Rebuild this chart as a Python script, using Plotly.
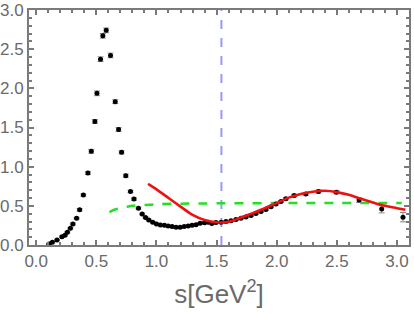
import plotly.graph_objects as go

# experimental data points
data_s = [0.106, 0.134, 0.173, 0.214, 0.239, 0.259, 0.284, 0.305, 0.336, 0.361,
          0.392, 0.430, 0.458, 0.488, 0.505, 0.535, 0.554, 0.582, 0.618, 0.657,
          0.685, 0.710, 0.745, 0.784, 0.813, 0.850, 0.881, 0.909, 0.936, 0.969,
          1.000, 1.033, 1.066, 1.097, 1.130, 1.163, 1.197, 1.230, 1.263, 1.296,
          1.329, 1.363, 1.400, 1.430, 1.460, 1.495, 1.537, 1.578, 1.620, 1.661,
          1.703, 1.744, 1.786, 1.827, 1.869, 1.910, 1.952, 1.993, 2.035, 2.076,
          2.145, 2.242, 2.347, 2.496, 2.685, 2.873, 3.050]
data_y = [0.013, 0.035, 0.064, 0.106, 0.124, 0.163, 0.214, 0.269, 0.342, 0.449,
          0.637, 0.919, 1.196, 1.577, 1.936, 2.372, 2.670, 2.740, 2.420, 1.830,
          1.474, 1.183, 0.885, 0.683, 0.586, 0.470, 0.397, 0.350, 0.320, 0.291,
          0.269, 0.256, 0.253, 0.244, 0.235, 0.227, 0.227, 0.235, 0.244, 0.253,
          0.260, 0.278, 0.285, 0.290, 0.275, 0.286, 0.291, 0.299, 0.308, 0.324,
          0.342, 0.359, 0.376, 0.401, 0.427, 0.453, 0.487, 0.522, 0.555, 0.590,
          0.632, 0.650, 0.683, 0.675, 0.573, 0.460, 0.355]
data_err = [0.008, 0.008, 0.008, 0.010, 0.010, 0.010, 0.010, 0.012, 0.012, 0.015,
            0.015, 0.020, 0.025, 0.025, 0.030, 0.030, 0.030, 0.030, 0.030, 0.025,
            0.025, 0.020, 0.020, 0.015, 0.015, 0.012, 0.010, 0.010, 0.010, 0.010,
            0.010, 0.010, 0.010, 0.010, 0.010, 0.010, 0.010, 0.010, 0.010, 0.010,
            0.010, 0.010, 0.010, 0.010, 0.010, 0.010, 0.010, 0.010, 0.010, 0.010,
            0.010, 0.010, 0.010, 0.010, 0.010, 0.010, 0.010, 0.012, 0.012, 0.012,
            0.015, 0.015, 0.020, 0.020, 0.030, 0.050, 0.060]

# red fit curve
fit_s = [0.93, 1.0, 1.1, 1.2, 1.3, 1.4, 1.5, 1.6, 1.7, 1.8, 1.9, 2.0, 2.1, 2.2,
         2.3, 2.4, 2.5, 2.6, 2.7, 2.8, 2.9, 3.0, 3.07]
fit_y = [0.78, 0.71, 0.60, 0.49, 0.385, 0.32, 0.29, 0.295, 0.35, 0.406, 0.47,
         0.535, 0.605, 0.652, 0.68, 0.692, 0.675, 0.64, 0.59, 0.543, 0.50, 0.47, 0.45]

# green dashed curve
green_s = [0.61, 0.65, 0.70, 0.75, 0.80, 0.90, 1.00, 1.20, 1.50, 2.00, 2.50, 3.04]
green_y = [0.42, 0.45, 0.47, 0.485, 0.50, 0.51, 0.52, 0.528, 0.532, 0.535, 0.535, 0.535]

vline_s = 1.54
x_ticks = [0.0, 0.5, 1.0, 1.5, 2.0, 2.5, 3.0]
y_ticks = [0.0, 0.5, 1.0, 1.5, 2.0, 2.5, 3.0]

fig = go.Figure()
fig.add_trace(go.Scatter(x=[vline_s, vline_s], y=[0, 3], mode="lines",
                         line=dict(color="#9a9af5", width=2, dash="dash"),
                         hoverinfo="skip"))
fig.add_trace(go.Scatter(x=green_s, y=green_y, mode="lines",
                         line=dict(color="#22e022", width=2.5, dash="dash", shape="spline")))
fig.add_trace(go.Scatter(x=data_s, y=data_y, mode="markers",
                         marker=dict(color="black", size=5),
                         error_y=dict(type="data", array=data_err, color="#8a8a8a",
                                      thickness=1, width=3)))
fig.add_trace(go.Scatter(x=fit_s, y=fit_y, mode="lines",
                         line=dict(color="#ee1111", width=2.6, shape="spline")))

axis_common = dict(showline=True, linecolor="#7a7a7a", linewidth=2, mirror="ticks",
                   ticks="inside", ticklen=5, tickwidth=1.5, tickcolor="#7a7a7a",
                   showgrid=False, zeroline=False, automargin=False,
                   tickfont=dict(family="Liberation Sans, Arial", size=17, color="#6a6a6a"))

fig.update_layout(
    width=414, height=314,
    margin=dict(l=29, r=5, t=10, b=69, autoexpand=False),
    paper_bgcolor="white", plot_bgcolor="white",
    showlegend=False,
    xaxis=dict(range=[-0.06, 3.1], tickvals=x_ticks, ticktext=[f"{v:.1f}" for v in x_ticks],
               minor=dict(ticks="inside", dtick=0.1, tick0=0, ticklen=3, tickcolor="#7a7a7a"),
               title=dict(text="s[GeV<sup>2</sup>]", standoff=14,
                          font=dict(family="Liberation Sans, Arial", size=26, color="#6a6a6a")),
               **axis_common),
    yaxis=dict(range=[0, 3.0], tickvals=y_ticks, ticktext=[f"{v:.1f}" for v in y_ticks],
               minor=dict(ticks="inside", dtick=0.1, tick0=0, ticklen=3, tickcolor="#7a7a7a"),
               ticklabelstandoff=0,
               **axis_common),
)

fig.write_html("out.html", config={"displayModeBar": False},
               post_script="document.body.style.margin='0';document.body.style.overflow='hidden';")
